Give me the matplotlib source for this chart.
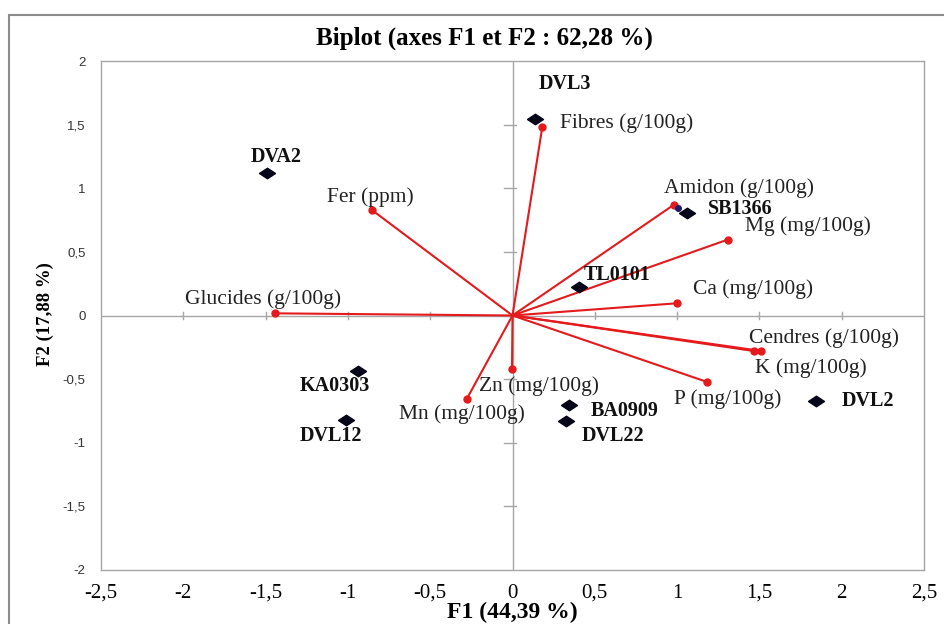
import matplotlib
matplotlib.use("Agg")
import matplotlib.pyplot as plt
from matplotlib.patches import Rectangle
import numpy as np

# observations (F1, F2)
obs_names = ["DVA2", "DVL3", "SB1366", "TL0101", "KA0303", "DVL12", "BA0909", "DVL22", "DVL2"]
obs_f1 = [-1.49, 0.135, 1.06, 0.406, -0.937, -1.012, 0.341, 0.323, 1.844]
obs_f2 = [1.122, 1.544, 0.808, 0.222, -0.434, -0.821, -0.703, -0.827, -0.669]

# variables (loadings)
var_names = ["Fibres (g/100g)", "Amidon (g/100g)", "Mg (mg/100g)", "Ca (mg/100g)",
             "Fer (ppm)", "Glucides (g/100g)", "Cendres (g/100g)", "K (mg/100g)",
             "P (mg/100g)", "Zn (mg/100g)", "Mn (mg/100g)"]
var_f1 = [0.181, 0.981, 1.307, 0.998, -0.852, -1.443, 1.465, 1.512, 1.184, -0.003, -0.278]
var_f2 = [1.481, 0.871, 0.596, 0.096, 0.827, 0.017, -0.279, -0.279, -0.523, -0.420, -0.656]

ticks = [-2.5, -2, -1.5, -1, -0.5, 0, 0.5, 1, 1.5, 2, 2.5]
yticks = [-2, -1.5, -1, -0.5, 0, 0.5, 1, 1.5, 2]

# label anchor positions (left edge, centre)
obs_lab = [(-1.59, 1.248), (0.159, 1.819), (1.186, 0.837), (0.433, 0.318), (-1.291, -0.552),
           (-1.295, -0.947), (0.473, -0.75), (0.422, -0.947), (1.998, -0.67)]
var_lab = [(0.287, 1.513), (0.919, 1.004), (1.413, 0.703), (1.097, 0.208), (-1.127, 0.934),
           (-1.99, 0.127), (1.435, -0.174), (1.475, -0.41), (0.983, -0.656), (-0.202, -0.554),
           (-0.69, -0.776)]

def fmt(v):
    s = ("%g" % v).replace(".", ",")
    return s

serif = "Liberation Serif"
gray = "#a6a6a6"
red = "#e41a1c"

fig = plt.figure(figsize=(9.44, 6.24), dpi=100)
ax = fig.add_axes([101/944, 1-570/624, 823/944, 509/624])

# outer frame
fig.add_artist(Rectangle((9/944, -0.05), 1.1, 1-15/624+0.05, transform=fig.transFigure,
                         fill=False, edgecolor="#8c8c8c", lw=1.5))

ax.set_xlim(-2.5, 2.5)
ax.set_ylim(-2, 2)
for sp in ax.spines.values():
    sp.set_color(gray)
    sp.set_linewidth(1)

# axes through origin with crossing ticks
ax.axhline(0, color=gray, lw=1, zorder=1)
ax.axvline(0, color=gray, lw=1, zorder=1)
for t in ticks[1:-1]:
    ax.plot([t, t], [-0.03, 0.03], color=gray, lw=1, zorder=1)
for t in yticks[1:-1]:
    ax.plot([-0.05, 0.02], [t, t], color=gray, lw=1, zorder=1)

ax.set_xticks(ticks)
ax.set_xticklabels([fmt(t) for t in ticks], fontfamily=serif, fontsize=15)
ax.set_yticks(yticks)
ax.set_yticklabels([fmt(t) for t in yticks], fontfamily="Liberation Sans", fontsize=9.5, color="#333333")
ax.tick_params(axis="x", length=0, pad=10)
ax.tick_params(axis="y", length=0, pad=11)

# variable vectors
for i in range(len(var_names)):
    ax.plot([0, var_f1[i]], [0, var_f2[i]], color=red, lw=1.5, zorder=2)
ax.plot(var_f1, var_f2, "o", color=red, ms=5, zorder=3)
for name, (lx, ly) in zip(var_names, var_lab):
    ax.text(lx, ly, name, fontfamily=serif, fontsize=15.5, color="#222222",
            ha="left", va="center", zorder=4)

# observations
diamond = [(-1, 0), (0, 0.66), (1, 0), (0, -0.66), (-1, 0)]
ax.plot(obs_f1, obs_f2, linestyle="none", marker=diamond, ms=11.5, color="#05051a", zorder=5)
ax.plot([1.005], [0.842], "o", color="#1a1a6e", ms=4, zorder=4)
for name, (lx, ly) in zip(obs_names, obs_lab):
    ax.text(lx, ly, name, fontfamily=serif, fontsize=14.5, fontweight="bold", color="#111111",
            ha="left", va="center", zorder=6)

fig.text(484/944, 1-38/624, "Biplot (axes F1 et F2 : 62,28 %)", fontfamily=serif,
         fontsize=18, fontweight="bold", ha="center", va="center")
fig.text(512/944, 1-612/624, "F1 (44,39 %)", fontfamily=serif, fontsize=17,
         fontweight="bold", ha="center", va="center")
fig.text(45/944, 1-314/624, "F2 (17,88 %)", fontfamily=serif, fontsize=13.5,
         fontweight="bold", ha="center", va="center", rotation=90)

fig.savefig("out.png", dpi=100)
